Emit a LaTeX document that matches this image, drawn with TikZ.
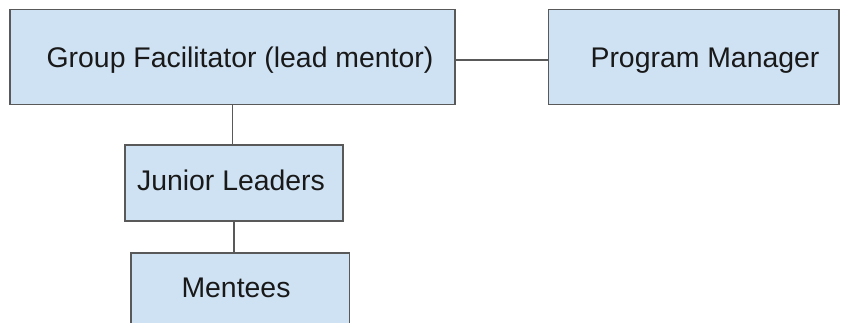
\documentclass[tikz,border=0pt]{standalone}
\usepackage{fontspec}
\setmainfont{Liberation Sans}
\definecolor{boxfill}{HTML}{CFE2F3}
\definecolor{boxline}{HTML}{595959}
\begin{document}
\begin{tikzpicture}[x=0.5pt,y=-0.5pt,
  box/.style={draw=boxline, fill=boxfill, line width=0.9pt, inner sep=0pt, outer sep=0pt},
  lbl/.style={font=\fontsize{14.2pt}{17pt}\selectfont, text=black!90, inner sep=0pt, anchor=base},
  link/.style={draw=boxline, line width=0.85pt}]
\useasboundingbox (0,0) rectangle (841,322);
\clip (0,0) rectangle (841,322);
\node[box, minimum width=222.5pt, minimum height=47.5pt] (gf) at (232.5,57) {};
\node[box, minimum width=145.25pt, minimum height=47.5pt] (pm) at (693.75,57) {};
\node[box, minimum width=109.3pt, minimum height=38.15pt] (jl) at (234,183.2) {};
\node[box, minimum width=109.4pt, minimum height=38.15pt] (me) at (240,291.5) {};
\node[lbl] (gft) at (240,67) {Group Facilitator (lead mentor)};
\node[lbl] (pmt) at (705,67) {Program Manager};
\node[lbl] (jlt) at (231,190) {Junior Leaders};
\node[lbl] (met) at (236,297) {Mentees};
\coordinate (hy) at (0,60);
\draw[link] (gf.east |- hy) -- (pm.west |- hy);
\draw[link] (gf.south) -- (jl.north -| gf.south);
\draw[link] (jl.south) -- (me.north -| jl.south);
\end{tikzpicture}
\end{document}
